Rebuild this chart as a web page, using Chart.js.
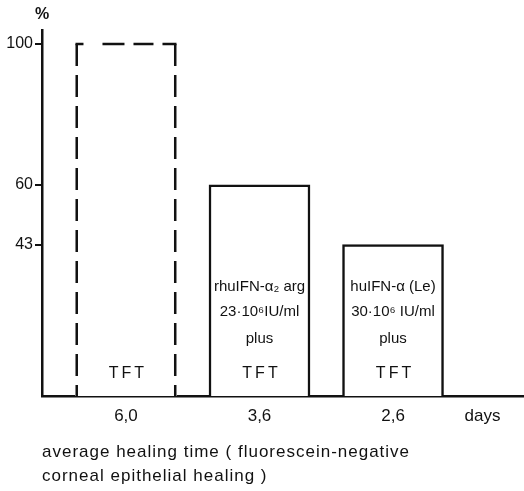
<!DOCTYPE html>
<html>
<head>
<meta charset="utf-8">
<script src="https://cdn.jsdelivr.net/npm/chart.js@4.4.1/dist/chart.umd.min.js"></script>
<style>
  html, body { margin: 0; padding: 0; background: #fff; }
  #wrap { width: 524px; height: 491px; }
</style>
</head>
<body>
<div id="wrap"><canvas id="chart" width="524" height="491"></canvas></div>
<script>
// healing results per treatment group
const healingDays = ['6,0', '3,6', '2,6'];
const healedPercent = [100, 60, 43];
const percentTicks = [43, 60, 100];
const unitLabel = 'days';
const barNotes = [
  ['TFT'],
  ['rhuIFN-α₂ arg', '23·10⁶IU/ml', 'plus', 'TFT'],
  ['huIFN-α (Le)', '30·10⁶ IU/ml', 'plus', 'TFT']
];
const caption = ['average healing time ( fluorescein-negative', 'corneal epithelial healing )'];

const FONT = '"Liberation Sans", Arial, sans-serif';
const INK = '#111';

// note line offsets above the bar base, bottom line first
const noteOffsets = [22, 57, 84, 109];

const annotations = {
  id: 'annotations',
  afterDatasetsDraw(chart) {
    const ctx = chart.ctx;
    const bars = chart.getDatasetMeta(0).data;
    const area = chart.chartArea;
    ctx.save();

    // control group bar is drawn with a dashed outline
    const b = bars[0];
    const lw = 2.5;
    const l = b.x - b.width / 2 + lw / 2;
    const r = b.x + b.width / 2 - lw / 2;
    ctx.strokeStyle = INK;
    ctx.lineWidth = lw;
    ctx.setLineDash([22, 9]);
    ctx.beginPath();
    ctx.moveTo(l, b.y); ctx.lineTo(l, b.base);
    ctx.moveTo(r, b.y); ctx.lineTo(r, b.base);
    ctx.stroke();
    ctx.setLineDash([8, 19, 22, 9, 20, 9, 20]);
    ctx.beginPath();
    ctx.moveTo(l - lw / 2, b.y); ctx.lineTo(r + lw / 2, b.y);
    ctx.stroke();
    ctx.setLineDash([]);

    // text inside the bars
    ctx.fillStyle = INK;
    ctx.textAlign = 'center';
    ctx.textBaseline = 'middle';
    barNotes.forEach((lines, i) => {
      const bar = bars[i];
      const n = lines.length;
      lines.forEach((t, j) => {
        const last = j === n - 1;
        ctx.font = (last ? '16px ' : '15px ') + FONT;
        ctx.letterSpacing = last ? '3px' : '0px';
        ctx.fillText(t, bar.x + (last ? 2 : 0), bar.base - noteOffsets[n - 1 - j]);
      });
    });
    ctx.letterSpacing = '0px';

    // unit above the value axis
    ctx.font = 'bold 16px ' + FONT;
    ctx.fillText('%', area.left, 15);

    // caption under the category axis
    ctx.font = '17px ' + FONT;
    ctx.letterSpacing = '1px';
    ctx.textAlign = 'left';
    caption.forEach((t, i) => ctx.fillText(t, area.left, 452 + i * 24));
    ctx.restore();
  }
};

new Chart(document.getElementById('chart'), {
  type: 'bar',
  data: {
    datasets: [{
      data: healedPercent.map((v, i) => ({ x: i + 1, y: v })),
      backgroundColor: '#fff',
      borderColor: INK,
      borderWidth: ctx => ctx.dataIndex === 0 ? 0 : 2.5,
      borderSkipped: 'bottom',
      barThickness: 101
    }]
  },
  options: {
    responsive: false,
    animation: false,
    devicePixelRatio: 1,
    layout: { padding: { top: 30, right: 0, left: 0, bottom: 0 } },
    plugins: { legend: { display: false }, tooltip: { enabled: false } },
    scales: {
      x: {
        type: 'linear',
        offset: false,
        min: 0.371,
        max: 3.981,
        afterBuildTicks: s => {
          s.ticks = healingDays.map((d, i) => ({ value: i + 1 })).concat({ value: 3.67 });
        },
        afterFit: s => { s.height = 95; },
        grid: { display: false, offset: false },
        border: { color: INK, width: 2.5 },
        ticks: {
          autoSkip: false,
          maxRotation: 0,
          padding: 2,
          color: INK,
          font: { family: FONT, size: 17 },
          callback: (v, i) => i < healingDays.length ? healingDays[i] : unitLabel
        }
      },
      y: {
        min: 0,
        max: 104,
        afterBuildTicks: s => { s.ticks = percentTicks.map(v => ({ value: v })); },
        afterFit: s => { s.width = 42; },
        grid: { drawOnChartArea: false, tickLength: 7, color: INK, lineWidth: 2 },
        border: { color: INK, width: 2.5 },
        ticks: {
          padding: 2,
          color: INK,
          font: { family: FONT, size: 16 },
          callback: v => String(v)
        }
      }
    }
  },
  plugins: [annotations]
});
</script>
</body>
</html>
